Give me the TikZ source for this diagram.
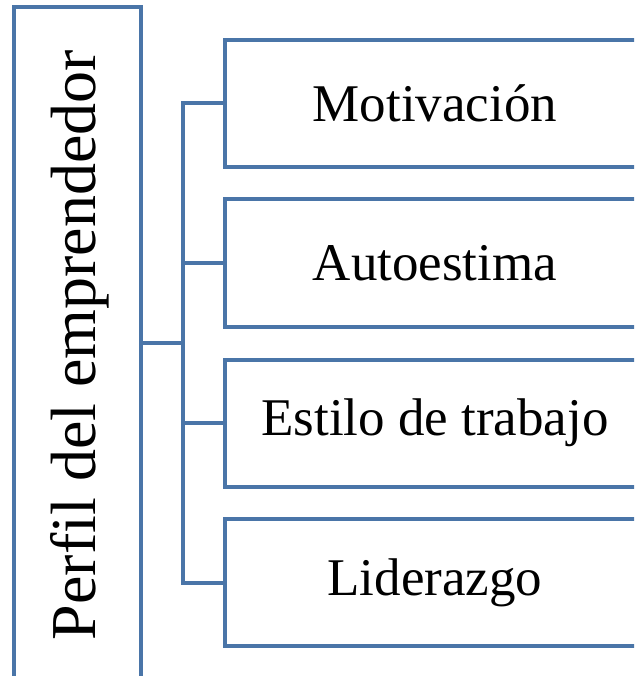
\documentclass[tikz,border=0pt]{standalone}
\usepackage{fontspec}
\setmainfont{Liberation Serif}
\definecolor{boxblue}{RGB}{74,117,168}
\begin{document}
\begin{tikzpicture}[x=1pt,y=-1pt,
  every node/.style={inner sep=0pt,outer sep=0pt},
  frame/.style={draw=boxblue,line width=4pt,fill=white},
  item/.style={frame,minimum width=420pt,minimum height=127pt},
  lbl/.style={font=\fontsize{53}{60}\selectfont,text=black},
  biglbl/.style={font=\fontsize{64}{70}\selectfont,text=black},
  conn/.style={draw=boxblue,line width=4pt}]
\useasboundingbox (0,0) rectangle (634,676);
\clip (0,0) rectangle (634,676);
\node[frame,minimum width=127pt,minimum height=671pt] (L) at (77.5,342.5) {};
\node[biglbl,rotate=90,anchor=base] (Lt) at (95,345) {Perfil del emprendedor};
\node[item] (b1) at (435,103.5) {};
\node[item] (b2) at (435,263) {};
\node[item] (b3) at (435,423) {};
\node[item] (b4) at (435,582.5) {};
\node[lbl] (t1) at (b1) {Motivación};
\node[lbl] (t2) at (b2) {Autoestima};
\node[lbl] (t3) at (b3) {Estilo de trabajo};
\node[lbl] (t4) at (b4) {Liderazgo};
\coordinate (bus) at (183,343);
\draw[conn] (L.east |- bus) -- (bus);
\draw[conn] (b1.west) -- (b1.west -| bus) -- (b4.west -| bus) -- (b4.west);
\draw[conn] (b2.west) -- (b2.west -| bus);
\draw[conn] (b3.west) -- (b3.west -| bus);
\end{tikzpicture}
\end{document}
